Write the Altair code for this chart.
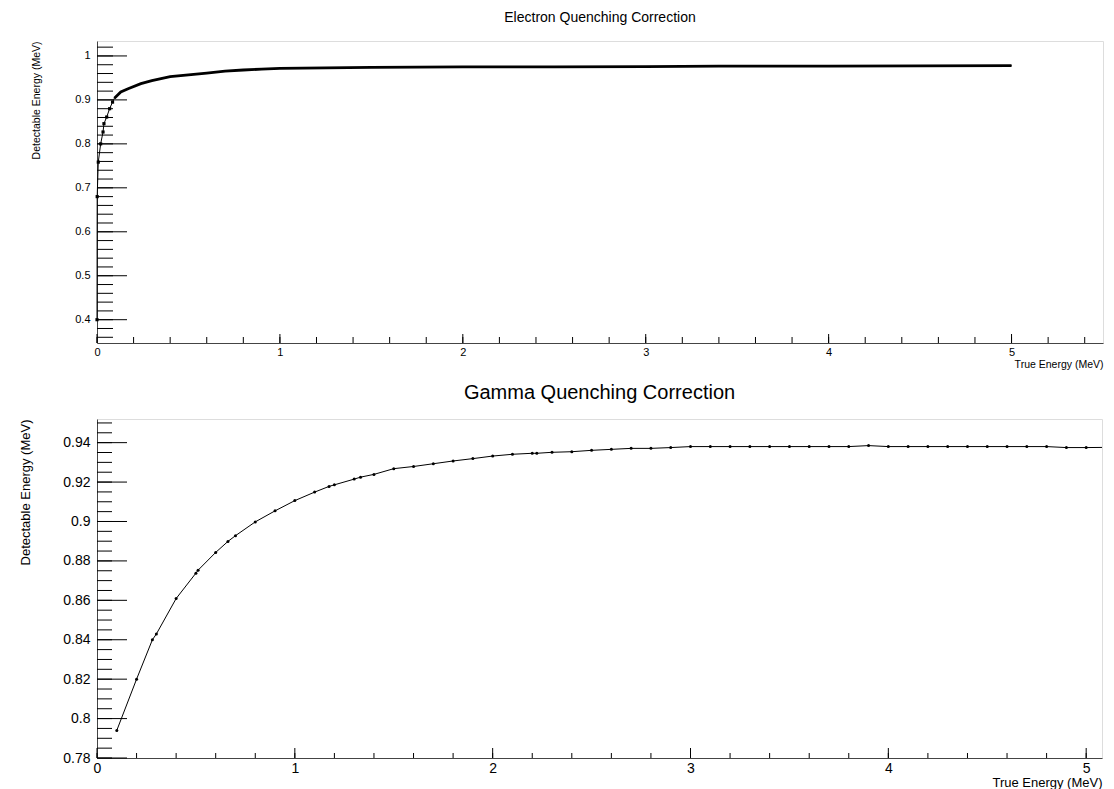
import altair as alt
import pandas as pd

# ---------------- data ----------------
electron_x = [0.0, 0.001, 0.007, 0.020, 0.033, 0.038, 0.053, 0.069, 0.085, 0.095,
              0.13, 0.17, 0.24, 0.30, 0.40, 0.50, 0.60, 0.70, 0.80, 0.90,
              1.00, 1.25, 1.50, 2.00, 2.50, 3.00, 3.40, 4.00, 4.50, 5.00]
electron_y = [0.400, 0.680, 0.7585, 0.800, 0.827, 0.846, 0.861, 0.880, 0.895, 0.904,
              0.918, 0.9255, 0.937, 0.944, 0.953, 0.957, 0.961, 0.9655, 0.968, 0.970,
              0.9715, 0.973, 0.974, 0.975, 0.9753, 0.9757, 0.9768, 0.977, 0.9775, 0.978]

gamma_x = [0.1, 0.2, 0.28, 0.3, 0.4, 0.5, 0.511, 0.6, 0.662, 0.7,
           0.8, 0.9, 1.0, 1.1, 1.173, 1.2, 1.3, 1.332, 1.4, 1.5,
           1.6, 1.7, 1.8, 1.9, 2.0, 2.1, 2.2, 2.223, 2.3, 2.4,
           2.5, 2.6, 2.7, 2.8, 2.9, 3.0, 3.1, 3.2, 3.3, 3.4,
           3.5, 3.6, 3.7, 3.8, 3.9, 4.0, 4.1, 4.2, 4.3, 4.4,
           4.5, 4.6, 4.7, 4.8, 4.9, 5.0, 5.1]
gamma_y = [0.794, 0.820, 0.840, 0.8429, 0.8609, 0.8738, 0.8753, 0.8843, 0.8899, 0.8928,
           0.8998, 0.9054, 0.9106, 0.9149, 0.9178, 0.9186, 0.9215, 0.9225, 0.9239, 0.9268,
           0.9279, 0.9293, 0.9307, 0.9319, 0.9332, 0.9341, 0.9346, 0.9346, 0.9351, 0.9354,
           0.9361, 0.9366, 0.9371, 0.9371, 0.9375, 0.9380, 0.9380, 0.9380, 0.9380, 0.9380,
           0.9380, 0.9380, 0.9380, 0.9380, 0.9385, 0.9380, 0.9380, 0.9380, 0.9380, 0.9380,
           0.9380, 0.9380, 0.9380, 0.9380, 0.9375, 0.9375, 0.9376]

# axis ticks / labels
top_y_major = [0.4, 0.5, 0.6, 0.7, 0.8, 0.9, 1.0]
top_y_minor = [round(0.36 + 0.02 * i, 3) for i in range(34)]
top_x_major = [0, 1, 2, 3, 4, 5]
top_x_minor = [round(0.2 * i, 2) for i in range(28)]
bot_y_major = [0.78, 0.80, 0.82, 0.84, 0.86, 0.88, 0.90, 0.92, 0.94]
bot_y_minor = [round(0.78 + 0.005 * i, 3) for i in range(35)]
bot_x_major = [0, 1, 2, 3, 4, 5]
bot_x_minor = [round(0.2 * i, 2) for i in range(26)]

FONT = "Liberation Sans"

e_df = pd.DataFrame({"x": electron_x, "y": electron_y})
g_df = pd.DataFrame({"x": gamma_x, "y": gamma_y})


def panel(df, xdom, ydom, W, H, xmaj, xmin, ymaj, ymin, title, tsize, toff,
          lab, ttl, ytx, ylen, xlen, thick_from=None, clip=False):
    xs = alt.Scale(domain=xdom, nice=False, zero=False)
    ys = alt.Scale(domain=ydom, nice=False, zero=False)
    xax = alt.Axis(values=xmaj, format="~g", ticks=False, grid=False,
                   domainColor="#444", labelFont=FONT, labelFontSize=lab,
                   labelColor="#000", labelPadding=3, labelFlush=False,
                   title="True Energy (MeV)", titleFont=FONT, titleFontSize=ttl,
                   titleFontWeight="normal", titleColor="#000",
                   titleX=W, titleY=lab + 10, titleAlign="right",
                   titleBaseline="middle", titleAnchor="end")
    yax = alt.Axis(values=ymaj, format="~g", ticks=False, grid=False,
                   domainColor="#444", labelFont=FONT, labelFontSize=lab,
                   labelColor="#000", labelPadding=7, labelFlush=False,
                   title="Detectable Energy (MeV)", titleFont=FONT,
                   titleFontSize=ttl, titleFontWeight="normal", titleColor="#000",
                   titleX=ytx, titleY=0, titleAngle=-90, titleAlign="right",
                   titleBaseline="middle")
    base = alt.Chart(df).encode(x=alt.X("x:Q", scale=xs, axis=xax),
                                y=alt.Y("y:Q", scale=ys, axis=yax))
    layers = [base.mark_line(color="#000", strokeWidth=1, clip=clip)]
    if thick_from is not None:
        layers.append(base.transform_filter(alt.datum.x >= thick_from)
                      .mark_line(color="#000", strokeWidth=2.8, clip=clip))
        layers.append(base.transform_filter(alt.datum.x < thick_from)
                      .mark_point(filled=True, color="#000", size=10, opacity=1,
                                  shape="square"))
    else:
        layers.append(base.mark_point(filled=True, color="#000", size=9,
                                      opacity=1, clip=clip))

    def yt(vals, ln):
        return alt.Chart(pd.DataFrame({"v": vals})).mark_rule(
            color="#000", strokeWidth=1).encode(
            y=alt.Y("v:Q", scale=ys), x=alt.value(0), x2=alt.value(ln))

    def xt(vals, ln):
        return alt.Chart(pd.DataFrame({"v": vals})).mark_rule(
            color="#000", strokeWidth=1).encode(
            x=alt.X("v:Q", scale=xs), y=alt.value(H), y2=alt.value(H - ln))

    layers += [yt(ymaj, ylen[0]), yt(ymin, ylen[1]),
               xt(xmaj, xlen[0]), xt(xmin, xlen[1])]
    return alt.layer(*layers).properties(
        width=W, height=H,
        title=alt.TitleParams(title, font=FONT, fontSize=tsize,
                              fontWeight="normal", color="#000",
                              anchor="middle", offset=toff))


top = panel(e_df, [0, 5.5], [0.347, 1.034], 1006, 302,
            top_x_major, top_x_minor, top_y_major, top_y_minor,
            "Electron Quenching Correction", 14, 16, 11, 10.5, -61,
            (30, 16), (9, 6), thick_from=0.09)
bottom = panel(g_df, [0, 5.08], [0.78, 0.952], 1005, 339,
               bot_x_major, bot_x_minor, bot_y_major, bot_y_minor,
               "Gamma Quenching Correction", 20, 16, 14, 13, -72,
               (30, 15), (10, 5), clip=True)

chart = alt.vconcat(top, bottom, spacing=12).properties(
    padding={"left": 10, "top": 2, "right": 0, "bottom": 0}
).configure_view(stroke="#555", strokeWidth=1).configure(background="white")

chart.save("out.html", embed_options={"renderer": "svg", "actions": False})
